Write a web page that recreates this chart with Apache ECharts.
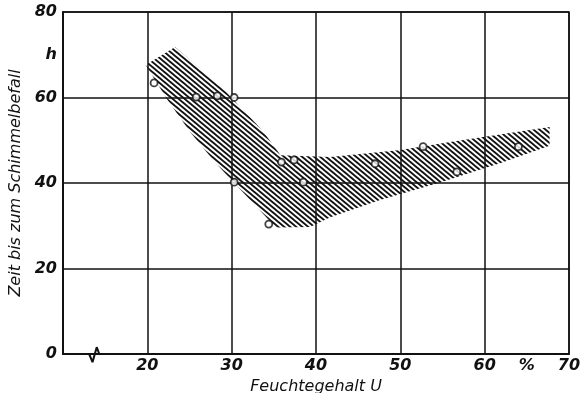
<!DOCTYPE html>
<html><head><meta charset="utf-8">
<script src="https://cdn.jsdelivr.net/npm/echarts@6/dist/echarts.min.js"></script>
<style>html,body{margin:0;padding:0;background:#fff}#c{width:582px;height:393px}</style>
</head><body><div id="c"></div>
<script>
// measured points: [Feuchtegehalt U %, Zeit h]
const points = [[20.8,63.4],[25.8,60.1],[28.3,60.4],[30.3,60.0],[30.3,40.2],[34.4,30.4],[35.9,44.9],[37.4,45.4],[38.5,40.2],[47.0,44.5],[52.7,48.5],[56.7,42.6],[64.0,48.5]];
// outline of hatched scatter band
const band = [[19.8,67.6],[23.3,71.8],[28.9,62.2],[33.6,52.4],[35.8,46.5],[41.7,46.1],[50.0,47.7],[55.9,49.6],[67.7,53.1],[67.7,48.7],[61.9,44.7],[54.8,40.2],[47.6,36.0],[41.7,32.0],[39.3,29.7],[35.2,29.6],[34.3,31.6],[32.2,36.0],[28.1,44.7],[25.1,51.9],[22.4,59.4]];
// axis break marker on x axis
const breakMark = [[13.1,0],[13.5,-1.9],[14.0,1.6],[14.3,0]];
const xLabels = [20,30,40,50,60,65,70];
const yLabels = [0,20,40,60,70,80];

function hatch(){
  const w=6,h=5,c=document.createElement('canvas');c.width=w;c.height=h;
  const g=c.getContext('2d');g.strokeStyle='#111';g.lineWidth=1.8;
  for(let k=-2;k<=2;k++){g.beginPath();g.moveTo(k*w-w,-h);g.lineTo(k*w+2*w,2*h);g.stroke();}
  return c;
}
const pat = {image: hatch(), repeat:'repeat'};
const font = {fontFamily:'DejaVu Sans', fontStyle:'italic', color:'#111'};
const chart = echarts.init(document.getElementById('c'), null, {renderer:'canvas'});
chart.setOption({
  animation:false,
  grid:{left:63,right:13,top:12,bottom:39,show:true,borderColor:'#111',borderWidth:1.5,outerBoundsMode:'none',containLabel:false},
  xAxis:{type:'value',min:10,max:70,interval:10,
    name:'Feuchtegehalt U',nameLocation:'middle',nameGap:19,
    nameTextStyle:Object.assign({fontSize:16},font),
    axisLine:{lineStyle:{color:'#111',width:2}},axisTick:{show:false},
    splitLine:{lineStyle:{color:'#111',width:1.5}},
    axisLabel:Object.assign({customValues:xLabels,fontSize:16,fontWeight:'bold',margin:4,formatter:v=>v===65?'%':String(v)},font)},
  yAxis:{type:'value',min:0,max:80,interval:20,
    name:'Zeit bis zum Schimmelbefall',nameLocation:'middle',nameGap:33,
    nameTextStyle:Object.assign({fontSize:16},font),
    axisLine:{lineStyle:{color:'#111',width:2}},axisTick:{show:false},
    splitLine:{lineStyle:{color:'#111',width:1.5}},
    axisLabel:Object.assign({customValues:yLabels,fontSize:16,fontWeight:'bold',margin:6,formatter:v=>v===70?'h':String(v)},font)},
  series:[
    {type:'custom',z:1,data:[0],renderItem:(params,api)=>({type:'polygon',shape:{points:band.map(p=>api.coord(p))},style:{fill:pat}})},
    {type:'line',z:5,data:breakMark,clip:false,symbol:'none',lineStyle:{color:'#111',width:2}},
    {type:'scatter',z:6,data:points,symbol:'circle',symbolSize:7,itemStyle:{color:'#fff',borderColor:'#111',borderWidth:1.8}}
  ]
});
</script></body></html>
